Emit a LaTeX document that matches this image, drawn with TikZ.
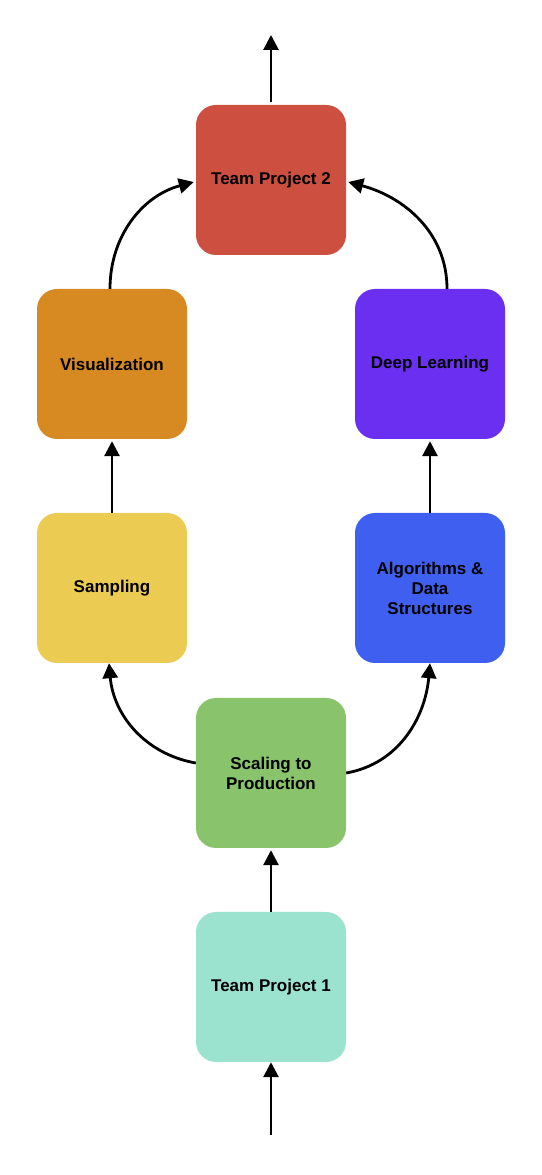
\documentclass[tikz,border=0pt]{standalone}
\usepackage{fontspec}
\setmainfont{Liberation Sans}
\usetikzlibrary{arrows.meta}

\definecolor{tpred}{HTML}{CC4F40}
\definecolor{visorange}{HTML}{D78A22}
\definecolor{dlpurple}{HTML}{6A2FF0}
\definecolor{sampyellow}{HTML}{ECCB52}
\definecolor{algoblue}{HTML}{3F5FF0}
\definecolor{scalegreen}{HTML}{89C46D}
\definecolor{tpteal}{HTML}{9CE3CF}

\begin{document}
\begin{tikzpicture}[x=1pt, y=1pt,
        course/.style={rounded corners=20pt, minimum width=150pt, minimum height=150pt,
            align=center, font=\fontsize{17}{20}\selectfont\bfseries, text=black},
        flow/.style={line width=2.8pt, -{Triangle[length=15pt,width=15pt]}}]
    \useasboundingbox (0,0) rectangle (541,1175);

    \node[course, fill=tpred] (tp2) at (271, 995) {Team Project 2};
    \node[course, fill=visorange] (vis) at (112, 811) {Visualization};
    \node[course, fill=dlpurple] (deep) at (430, 811) {Deep Learning};
    \node[course, fill=sampyellow] (samp) at (112, 587) {Sampling};
    \node[course, fill=algoblue] (algo) at (430, 587) {Algorithms \&\\ Data\\ Structures};
    \node[course, fill=scalegreen] (scale) at (271, 402) {Scaling to\\ Production};
    \node[course, fill=tpteal] (tp1) at (271, 188) {Team Project 1};

    \coordinate (start) at (271, 40);
    \coordinate (finish) at (271, 1140);

    \draw[flow] (start) -- (tp1.south);
    \draw[flow] (tp1.north) -- ([yshift=-2pt]scale.south);
    \draw[flow] ([yshift=10pt]scale.west) to[out=170, in=-85] ([xshift=-3pt]samp.south);
    \draw[flow] (scale.east) to[out=10, in=-95] (algo.south);
    \draw[flow] (samp.north) -- ([yshift=-2pt]vis.south);
    \draw[flow] (algo.north) -- ([yshift=-2pt]deep.south);
    \draw[flow] ([xshift=-2pt]vis.north) to[out=90, in=195] ([xshift=-2pt, yshift=-2pt]tp2.west);
    \draw[flow] ([xshift=17pt]deep.north) to[out=90, in=-15] ([xshift=2pt, yshift=-2pt]tp2.east);
    \draw[flow] ([yshift=3pt]tp2.north) -- (finish);
\end{tikzpicture}
\end{document}
